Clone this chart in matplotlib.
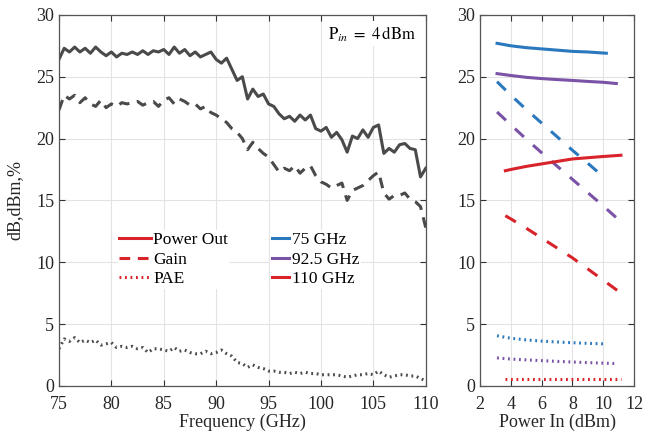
import numpy as np
import matplotlib.pyplot as plt
from matplotlib.lines import Line2D

# left panel: swept frequency at Pin = 4 dBm
freq = np.arange(75.0, 110.01, 0.5)

pout_sweep = [
    26.4, 27.3, 27.0, 27.4, 27.0, 27.3, 26.9, 27.4, 27.0, 26.7,
    27.0, 26.6, 26.9, 26.8, 27.0, 26.8, 27.1, 26.8, 27.1, 27.0,
    27.2, 26.8, 27.4, 26.9, 27.2, 26.7, 27.0, 26.6, 26.8, 27.0,
    26.4, 26.1, 26.5, 25.6, 24.7, 25.0, 23.2, 24.0, 23.4, 23.6,
    22.8, 22.6, 22.0, 21.6, 21.8, 21.4, 21.9, 21.5, 21.9, 20.8,
    20.6, 20.9, 20.1, 20.5, 19.9, 18.9, 20.2, 20.0, 20.7, 20.1,
    20.9, 21.1, 18.8, 19.2, 18.9, 19.5, 19.6, 19.2, 19.1, 16.9,
    17.6,
]

gain_sweep = [
    22.3, 23.5, 23.2, 23.5, 22.9, 23.3, 22.8, 22.6, 23.1, 22.5,
    22.8, 22.6, 22.9, 22.8, 22.9, 23.0, 22.7, 22.9, 23.0, 22.6,
    23.1, 23.3, 22.8, 23.2, 23.0, 22.7, 22.8, 22.4, 22.6, 22.1,
    21.9, 21.6, 21.3, 20.8, 20.5, 20.0, 19.1, 19.7, 19.2, 18.8,
    18.5, 17.9, 17.3, 17.6, 17.4, 17.8, 17.2, 17.6, 17.8, 17.0,
    16.5, 16.3, 16.0, 16.2, 16.4, 15.0, 15.8, 16.0, 16.2, 16.6,
    17.0, 17.3, 15.6, 15.1, 15.4, 15.4, 15.6, 15.1, 14.9, 14.5,
    12.8,
]

pae_sweep = [
    3.0, 3.8, 3.6, 3.9, 3.5, 3.7, 3.5, 3.7, 3.3, 3.4,
    3.5, 3.1, 3.2, 3.1, 3.2, 3.0, 3.1, 2.7, 3.0, 3.0,
    2.9, 2.8, 3.1, 2.8, 2.9, 2.7, 2.6, 2.6, 2.8, 2.6,
    2.7, 2.9, 2.6, 2.4, 1.9, 1.8, 1.5, 1.7, 1.5, 1.4,
    1.2, 1.2, 1.1, 1.1, 1.0, 1.1, 1.0, 1.1, 1.0, 1.0,
    0.9, 0.9, 0.9, 0.9, 0.8, 0.7, 0.8, 0.9, 0.9, 1.0,
    0.9, 1.2, 0.9, 0.7, 0.8, 0.9, 0.9, 0.8, 0.8, 0.6,
    0.4,
]

# right panel: power sweep at three frequencies
pin_75 = [3.1, 4, 5, 6, 7, 8, 9, 10.2]
pout_75 = [27.7, 27.5, 27.35, 27.25, 27.15, 27.05, 27.0, 26.9]
gain_75 = [24.6, 23.5, 22.35, 21.25, 20.15, 19.05, 18.0, 16.7]
pae_75 = [4.05, 3.85, 3.72, 3.62, 3.55, 3.49, 3.44, 3.39]

pin_925 = [3.1, 4, 5, 6, 7, 8, 9, 10, 10.85]
pout_925 = [25.25, 25.1, 24.95, 24.85, 24.77, 24.7, 24.62, 24.55, 24.45]
gain_925 = [22.15, 21.1, 19.95, 18.85, 17.77, 16.7, 15.62, 14.55, 13.6]
pae_925 = [2.26, 2.17, 2.1, 2.04, 1.98, 1.93, 1.88, 1.84, 1.80]

pin_110 = [3.64, 4, 5, 6, 7, 8, 9, 10, 11.15]
pout_110 = [17.4, 17.5, 17.75, 17.95, 18.15, 18.35, 18.45, 18.55, 18.65]
gain_110 = [13.76, 13.5, 12.75, 11.95, 11.15, 10.35, 9.45, 8.55, 7.5]
pae_110 = [0.56, 0.56, 0.56, 0.56, 0.56, 0.56, 0.56, 0.56, 0.56]

GRAY = "#4a4a4a"
BLUE = "#2a78bd"
PURPLE = "#7a52a6"
RED = "#d8232a"
LW = 2.2
DASH = (0, (3.5, 2.5))
DOT = (0, (0.6, 1.2))

plt.rcParams["font.family"] = ["Liberation Serif", "DejaVu Serif"]
plt.rcParams["mathtext.fontset"] = "stix"
plt.rcParams["font.size"] = 12


def style_axes(ax):
    ax.grid(True, color="#e3e3e3", linewidth=0.8)
    ax.set_axisbelow(True)
    ax.tick_params(direction="in", top=True, right=True,
                   length=4, width=0.8, colors="#333333",
                   labelcolor="#262626", labelsize=13)
    ax.tick_params(axis="x", pad=7)
    for s in ax.spines.values():
        s.set_color("#555555")
        s.set_linewidth(0.9)


fig = plt.figure(figsize=(6.55, 4.38), dpi=100)
ax1 = fig.add_axes([0.090, 0.119, 0.560, 0.847])
ax2 = fig.add_axes([0.733, 0.119, 0.235, 0.847])

ax1.plot(freq, pout_sweep, color=GRAY, lw=LW)
ax1.plot(freq, gain_sweep, color=GRAY, lw=LW, ls=DASH)
ax1.plot(freq, pae_sweep, color=GRAY, lw=LW, ls=DOT)

ax1.set_xlim(75, 110)
ax1.set_ylim(0, 30)
ax1.set_xticks(np.arange(75, 111, 5))
ax1.set_yticks(np.arange(0, 31, 5))
ax1.set_xlabel("Frequency (GHz)", fontsize=13, color="#262626", labelpad=1)
ax1.set_ylabel("dB,dBm,%", fontsize=13, color="#262626", labelpad=9)
style_axes(ax1)

ax1.text(0.975, 0.975, r"$\mathrm{P}_{in}\ =\ 4\,\mathrm{dBm}$",
         transform=ax1.transAxes, ha="right", va="top", fontsize=12,
         bbox=dict(facecolor="white", edgecolor="none", pad=2))

# two legend blocks (the right one has short handles)
leg1 = ax1.legend(
    [Line2D([], [], color=RED, lw=LW),
     Line2D([], [], color=RED, lw=LW, ls=DASH),
     Line2D([], [], color=RED, lw=LW, ls=DOT)],
    ["Power Out", "Gain", "PAE"],
    loc="upper left", bbox_to_anchor=(0.16, 0.42), frameon=True,
    facecolor="white", edgecolor="none", framealpha=1,
    fontsize=12.5, handlelength=1.8, handletextpad=0.15,
    labelspacing=0.2, borderpad=0.1, borderaxespad=0)
ax1.add_artist(leg1)
ax1.legend(
    [Line2D([], [], color=BLUE, lw=LW),
     Line2D([], [], color=PURPLE, lw=LW),
     Line2D([], [], color=RED, lw=LW)],
    ["75 GHz", "92.5 GHz", "110 GHz"],
    loc="upper left", bbox_to_anchor=(0.575, 0.42), frameon=True,
    facecolor="white", edgecolor="none", framealpha=1,
    fontsize=12.5, handlelength=1.0, handletextpad=0.15,
    labelspacing=0.2, borderpad=0.1, borderaxespad=0)

for pin, po, g, pae, c in [
    (pin_75, pout_75, gain_75, pae_75, BLUE),
    (pin_925, pout_925, gain_925, pae_925, PURPLE),
    (pin_110, pout_110, gain_110, pae_110, RED),
]:
    ax2.plot(pin, po, color=c, lw=LW)
    ax2.plot(pin, g, color=c, lw=LW, ls=(0, (4, 4)))
    ax2.plot(pin, pae, color=c, lw=LW, ls=DOT)

ax2.set_xlim(2, 12)
ax2.set_ylim(0, 30)
ax2.set_xticks(np.arange(2, 13, 2))
ax2.set_yticks(np.arange(0, 31, 5))
ax2.set_xlabel("Power In (dBm)", fontsize=13, color="#262626", labelpad=1)
style_axes(ax2)

fig.savefig("out.png", dpi=100)
